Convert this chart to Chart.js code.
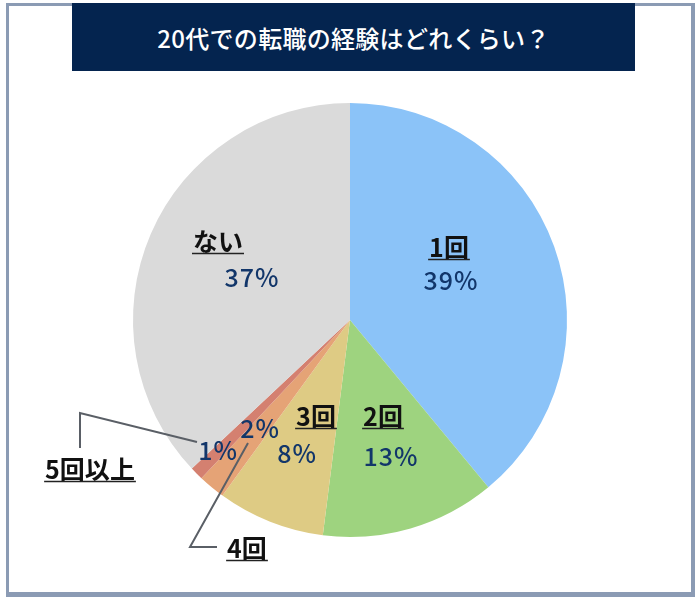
<!DOCTYPE html>
<html><head><meta charset="utf-8">
<script src="https://cdn.jsdelivr.net/npm/chart.js@4.4.0/dist/chart.umd.min.js"></script>
<style>
html,body{margin:0;padding:0;background:#fff;}
#wrap{position:relative;width:700px;height:601px;overflow:hidden;}
#frame{position:absolute;left:6px;top:3px;width:682px;height:586px;border:3px solid #8B9BB4;border-right-width:4px;border-bottom-width:5px;}
#title{position:absolute;left:72px;top:3px;width:563px;height:68px;background:#04244F;color:#fff;font:500 24px "Noto Sans CJK JP";display:flex;align-items:center;justify-content:center;letter-spacing:0.3px;}
canvas{position:absolute;left:0;top:0;}
</style></head>
<body>
<div id="wrap">
<canvas id="c" width="700" height="601"></canvas>
<div id="frame"></div>
<div id="title">20代での転職の経験はどれくらい？</div>
</div>
<script>
const categories = ['1回','2回','3回','4回','5回以上','ない'];
const values = [39, 13, 8, 2, 1, 37];
const colors = ['#8BC3F8','#9ED37F','#DECB84','#E5A376','#D48070','#DADADA'];

// annotation layout (text anchors in px)
const namePos = [[449,247],[383,416],[316,416],[247,548],[90,469],[218,241]];
const pctPos  = [[451,280],[391,456],[297,453],[260,428],[218,450],[252,277]];
const leaders = {3: [[248,443],[190,547],[217,547]], 4: [[80,448],[80,413],[197,442]]};

const labelPlugin = {
  id: 'labels',
  afterDatasetsDraw(chart) {
    const ctx = chart.ctx;
    ctx.save();
    ctx.strokeStyle = '#5A5F66';
    ctx.lineWidth = 2;
    Object.values(leaders).forEach(pts => {
      ctx.beginPath();
      ctx.moveTo(pts[0][0], pts[0][1]);
      for (let i = 1; i < pts.length; i++) ctx.lineTo(pts[i][0], pts[i][1]);
      ctx.stroke();
    });
    ctx.textAlign = 'center';
    ctx.textBaseline = 'middle';
    categories.forEach((name, i) => {
      ctx.letterSpacing = '0px';
      ctx.font = 'bold 25px "Noto Sans CJK JP"';
      ctx.fillStyle = '#111';
      const [nx, ny] = namePos[i];
      ctx.fillText(name, nx, ny);
      const w = ctx.measureText(name).width;
      ctx.strokeStyle = '#222';
      ctx.lineWidth = 1.5;
      ctx.beginPath();
      ctx.moveTo(nx - w / 2 - 1, ny + 12.5);
      ctx.lineTo(nx + w / 2 + 1, ny + 12.5);
      ctx.stroke();
      ctx.letterSpacing = '1px';
      ctx.font = '500 25px "Noto Sans CJK JP"';
      ctx.fillStyle = '#12366A';
      const [px, py] = pctPos[i];
      ctx.fillText(values[i] + '%', px, py);
    });
    ctx.restore();
  }
};

new Chart(document.getElementById('c'), {
  type: 'pie',
  data: {
    labels: categories,
    datasets: [{ data: values, backgroundColor: colors, borderWidth: 0 }]
  },
  options: {
    responsive: false,
    animation: false,
    layout: { padding: { top: 103, bottom: 64, left: 0, right: 0 } },
    plugins: { legend: { display: false }, tooltip: { enabled: false }, title: { display: false } }
  },
  plugins: [labelPlugin]
});
</script>
</body></html>
